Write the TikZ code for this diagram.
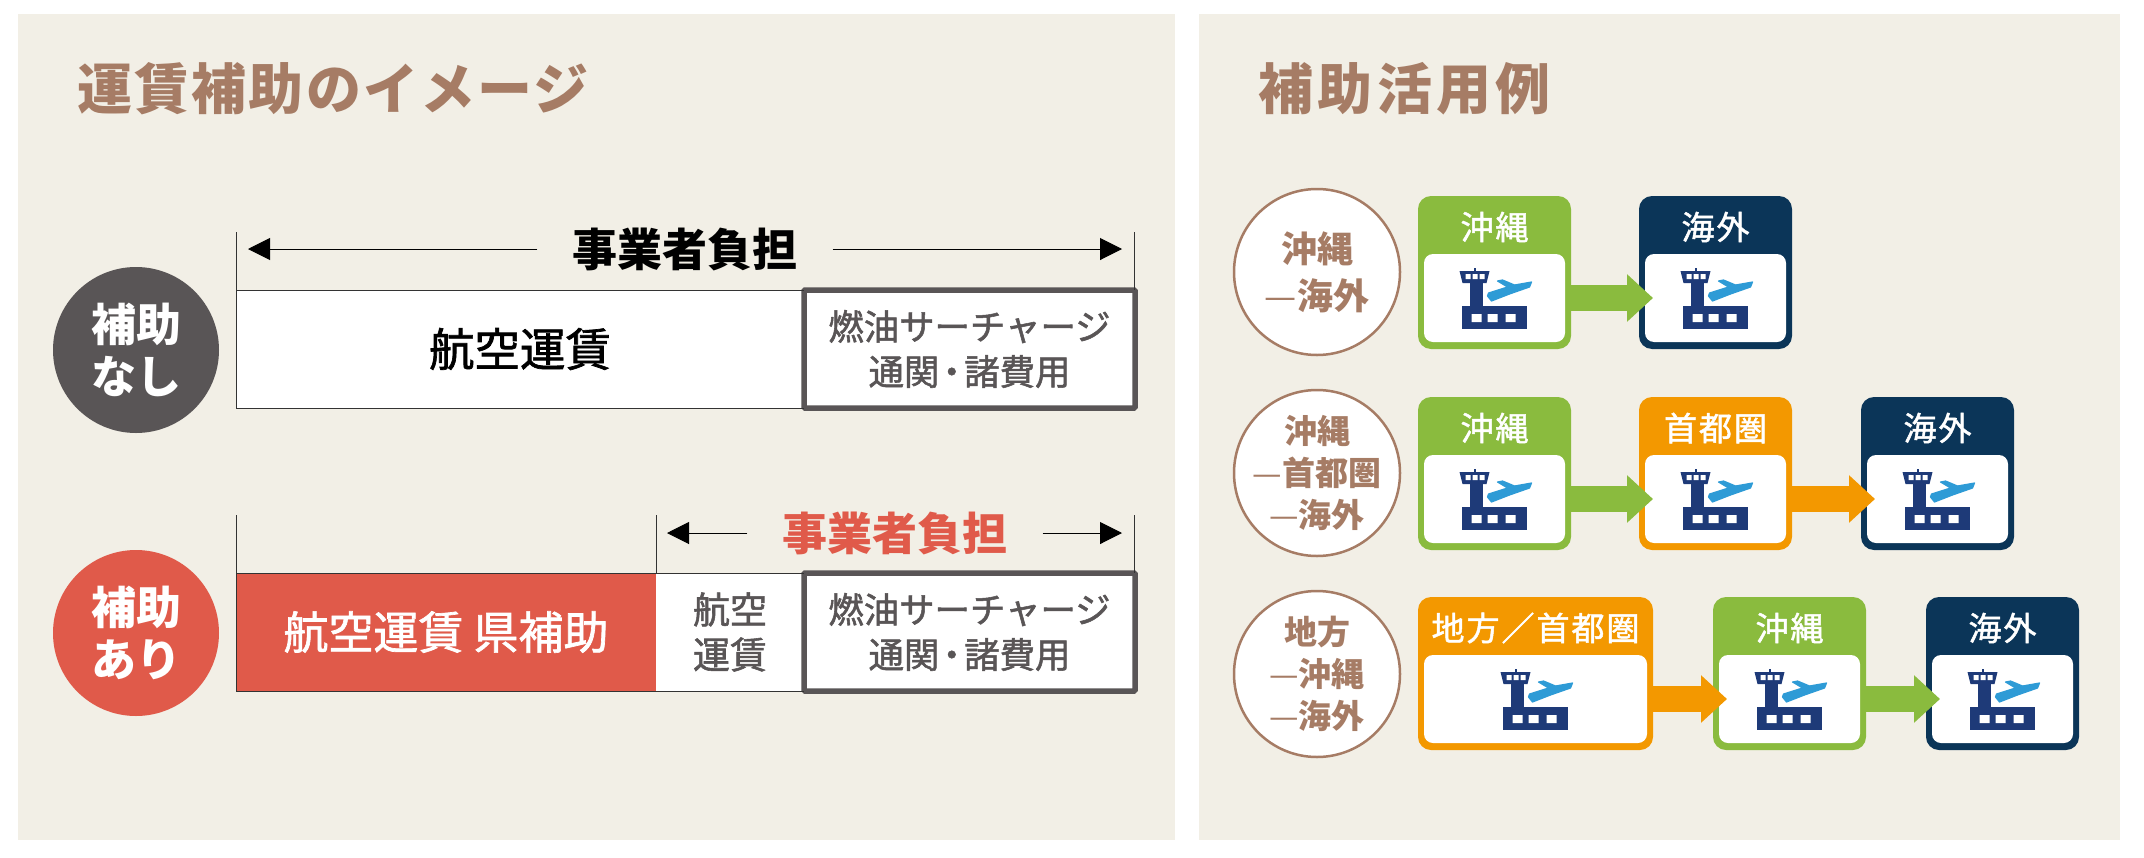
\documentclass[tikz,border=0pt]{standalone}
\usepackage{fontspec}
\usetikzlibrary{arrows.meta,calc}
\setmainfont{Noto Sans CJK JP}
\newfontfamily\jpleft[LetterSpace=4]{Noto Sans CJK JP}
\newfontfamily\jpright[LetterSpace=8]{Noto Sans CJK JP}
\newfontfamily\jpwide[LetterSpace=6,FakeBold=1.5]{Noto Sans CJK JP}
\newfontfamily\jpmed[FakeBold=1.5]{Noto Sans CJK JP}
\definecolor{panelbg}{HTML}{F2EFE6}
\definecolor{brown}{HTML}{A67C65}
\definecolor{darkgrey}{HTML}{595556}
\definecolor{redish}{HTML}{E05A4A}
\definecolor{greenish}{HTML}{8ABB3E}
\definecolor{navyish}{HTML}{0B3558}
\definecolor{orangeish}{HTML}{F39800}
\definecolor{iconnavy}{HTML}{1E3A78}
\definecolor{iconblue}{HTML}{2E9BD6}
\newcommand{\fs}[2]{\fontsize{#1}{#2}\selectfont}
\newcommand{\thindash}{{\mdseries —}}
\tikzset{
  x=1pt,y=-1pt,
  panel/.style={fill=panelbg,draw=none},
  titletext/.style={text=brown,inner sep=0,anchor=west},
  badge/.style={circle,minimum size=166pt,inner sep=0,text=white,align=center,font=\bfseries\fs{45}{52}},
  routecirc/.style={circle,fill=white,draw=brown,line width=2.5pt,minimum size=166pt,inner sep=0,outer sep=0},
  routetext/.style={inner sep=0,text=brown,align=center},
  barcell/.style={anchor=north west,inner sep=0,outer sep=0,minimum height=118pt,align=center},
  whitecell/.style={barcell,fill=white,text=black},
  greybox/.style={barcell,fill=white,draw=darkgrey,line width=5.5pt,rounded corners=1pt,minimum width=331pt,text=darkgrey,font=\jpmed\fs{35.4}{45}},
  tick/.style={draw=black!80,line width=1pt},
  dimarrow/.style={line width=1pt,-{Triangle[length=22pt,width=22pt]}},
  dimlabel/.style={inner sep=0,font=\bfseries\fs{45}{50}},
  outbox/.style={anchor=north west,inner sep=0,minimum height=153pt,rounded corners=13pt,line width=0pt},
  inbox/.style={fill=white,inner sep=0,minimum height=88pt,rounded corners=9pt},
  boxlabel/.style={text=white,inner sep=0,font=\jpwide\fs{33}{40}},
  flow/.style={line width=26pt,-{Triangle[length=26pt,width=46pt,sep=0pt]},shorten >=-14pt},
  airport/.pic={
    \begin{scope}[shift={(-35,-29)}]
      \fill[iconnavy] (14,-1) rectangle (16,3);
      \fill[iconnavy] (0,2) -- (30,2) -- (27,14) -- (3,14) -- cycle;
      \fill[white] (6,5) rectangle (11,10) (13,5) rectangle (18,10) (20,5) rectangle (25,10);
      \fill[iconnavy] (10,14) rectangle (23,38);
      \fill[iconnavy] (2,37) rectangle (67,60);
      \fill[white] (12,45) rectangle (22,53) (28,45) rectangle (38,53) (46,45) rectangle (56,53);
      \filldraw[iconblue,line width=1.2pt,line join=round] (29,24) -- (48,18) -- (38,12) -- (43,11) -- (55,16) -- (72,13) -- (70,18) -- (50,25) -- (32,32) -- (28,27) -- cycle;
    \end{scope}
  }
}
\begin{document}
\begin{tikzpicture}
\useasboundingbox (0,0) rectangle (2144,857);
\fill[white] (0,0) rectangle (2144,857);
\fill[panel] (18,14) rectangle (1175,840);
\fill[panel] (1199,14) rectangle (2120,840);

\node[titletext,font=\jpleft\bfseries\fs{55}{60}] (t1) at (77,89) {運賃補助のイメージ};
\node[titletext,font=\jpright\bfseries\fs{55}{60}] (t2) at (1258,89) {補助活用例};

% ---- row without subsidy
\node[badge,fill=darkgrey] (b1) at (136,350) {補助\\なし};
\node[whitecell,minimum width=568pt,font=\jpmed\fs{45.5}{50}] (c1) at (236,290) {\raisebox{-1.5pt}{航空運賃}};
\node[greybox] (g1) at (804,290) {燃油サーチャージ\\通関\kern-.15em・\kern-.15em諸費用};
\draw[tick] (c1.north west) -- (c1.south west) -- (c1.south east);
\draw[tick] (c1.north west) -- (c1.north east);
\coordinate (l1) at (236,232);
\coordinate (r1) at (1134,232);
\draw[tick] (l1) -- (c1.north west);
\draw[tick] (r1) -- (r1 |- g1.north);
\node[dimlabel,text=black] (d1) at (685,249) {事業者負担};
\coordinate (la1) at (248,249);
\coordinate (ra1) at (1122,249);
\draw[dimarrow] ([xshift=-35pt]d1.west) -- (la1);
\draw[dimarrow] ([xshift=35pt]d1.east) -- (ra1);

% ---- row with subsidy
\node[badge,fill=redish] (b2) at (136,633) {補助\\あり};
\node[barcell,fill=redish,text=white,minimum width=420pt,font=\jpmed\fs{45}{50}] (c2) at (236,573) {\raisebox{-2pt}{航空運賃 県補助}};
\node[whitecell,minimum width=148pt,text=darkgrey,font=\jpmed\fs{37}{45}] (c3) at (656,573) {航空\\運賃};
\node[greybox] (g2) at (804,573) {燃油サーチャージ\\通関\kern-.15em・\kern-.15em諸費用};
\draw[tick] (c2.north west) -- (c2.south west) -- (c2.south east) -- (c3.south east);
\draw[tick] (c2.north west) -- (c3.north east);
\coordinate (l2) at (236,515);
\coordinate (m2) at (656,515);
\coordinate (r2) at (1134,515);
\draw[tick] (l2) -- (c2.north west);
\draw[tick] (m2) -- (c3.north west);
\draw[tick] (r2) -- (r2 |- g2.north);
\node[dimlabel,text=redish] (d2) at (895,533) {事業者負担};
\coordinate (la2) at (667,533);
\coordinate (ra2) at (1122,533);
\draw[dimarrow] ([xshift=-35pt]d2.west) -- (la2);
\draw[dimarrow] ([xshift=35pt]d2.east) -- (ra2);

% ---- route circles
\node[routecirc] (rc1) at (1317,272) {};
\node[routecirc] (rc2) at (1317,473) {};
\node[routecirc] (rc3) at (1317,674) {};
\node[routetext,font=\bfseries\fs{36}{47}] (rt1) at (rc1) {沖縄\\\thindash 海外};
\node[routetext,font=\bfseries\fs{33}{42}] (rt2) at (rc2) {沖縄\\\thindash 首都圏\\\thindash 海外};
\node[routetext,font=\bfseries\fs{33}{42}] (rt3) at (rc3) {地方\\\thindash 沖縄\\\thindash 海外};

% ---- route boxes: row 1
\node[outbox,fill=greenish,minimum width=153pt] (a1) at (1418,196) {};
\node[outbox,fill=navyish,minimum width=153pt] (a2) at (1639,196) {};
\node[inbox,minimum width=141pt] (ai1) at ($(a1.south)+(0,-51)$) {};
\node[inbox,minimum width=141pt] (ai2) at ($(a2.south)+(0,-51)$) {};
\node[boxlabel] (al1) at ($(a1.north)+(0,31)$) {沖縄};
\node[boxlabel] (al2) at ($(a2.north)+(0,31)$) {海外};
\pic at (ai1) {airport};
\pic at (ai2) {airport};
\draw[flow,greenish,yshift=3pt] (a1.east |- ai1) -- (a2.west |- ai2);

% ---- route boxes: row 2
\node[outbox,fill=greenish,minimum width=153pt] (e1) at (1418,397) {};
\node[outbox,fill=orangeish,minimum width=153pt] (e2) at (1639,397) {};
\node[outbox,fill=navyish,minimum width=153pt] (e3) at (1861,397) {};
\node[inbox,minimum width=141pt] (ei1) at ($(e1.south)+(0,-51)$) {};
\node[inbox,minimum width=141pt] (ei2) at ($(e2.south)+(0,-51)$) {};
\node[inbox,minimum width=141pt] (ei3) at ($(e3.south)+(0,-51)$) {};
\node[boxlabel] (el1) at ($(e1.north)+(0,31)$) {沖縄};
\node[boxlabel] (el2) at ($(e2.north)+(0,31)$) {首都圏};
\node[boxlabel] (el3) at ($(e3.north)+(0,31)$) {海外};
\pic at (ei1) {airport};
\pic at (ei2) {airport};
\pic at (ei3) {airport};
\draw[flow,greenish,yshift=3pt] (e1.east |- ei1) -- (e2.west |- ei2);
\draw[flow,orangeish,yshift=3pt] (e2.east |- ei2) -- (e3.west |- ei3);

% ---- route boxes: row 3
\node[outbox,fill=orangeish,minimum width=235pt] (f1) at (1418,597) {};
\node[outbox,fill=greenish,minimum width=153pt] (f2) at (1713,597) {};
\node[outbox,fill=navyish,minimum width=153pt] (f3) at (1926,597) {};
\node[inbox,minimum width=223pt] (fi1) at ($(f1.south)+(0,-51)$) {};
\node[inbox,minimum width=141pt] (fi2) at ($(f2.south)+(0,-51)$) {};
\node[inbox,minimum width=141pt] (fi3) at ($(f3.south)+(0,-51)$) {};
\node[boxlabel] (fl1) at ($(f1.north)+(0,31)$) {地方／首都圏};
\node[boxlabel] (fl2) at ($(f2.north)+(0,31)$) {沖縄};
\node[boxlabel] (fl3) at ($(f3.north)+(0,31)$) {海外};
\pic at (fi1) {airport};
\pic at (fi2) {airport};
\pic at (fi3) {airport};
\draw[flow,orangeish,yshift=3pt] (f1.east |- fi1) -- (f2.west |- fi2);
\draw[flow,greenish,yshift=3pt] (f2.east |- fi2) -- (f3.west |- fi3);
\end{tikzpicture}
\end{document}
